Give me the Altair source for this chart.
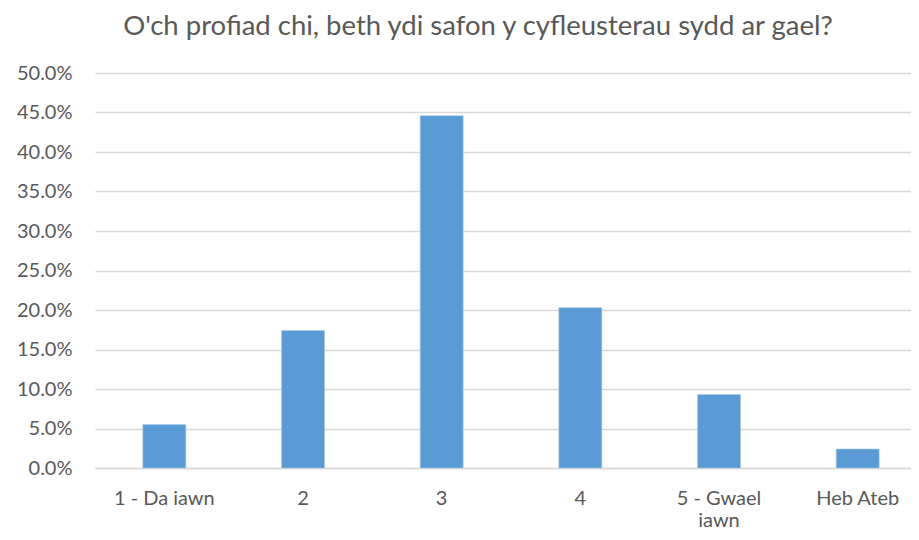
import altair as alt
import pandas as pd

categories = ["1 - Da iawn", "2", "3", "4", "5 - Gwael iawn", "Heb Ateb"]
values = [0.055, 0.174, 0.446, 0.203, 0.093, 0.024]
title_text = "O'ch profiad chi, beth ydi safon y cyfleusterau sydd ar gael?"

df = pd.DataFrame({"cat": categories, "val": values})

FONT = "Lato"
TXT = "#595959"

chart = alt.Chart(df).mark_bar(color="#5b9bd5", stroke="#a9c9ea", strokeWidth=0.6).encode(
    x=alt.X("cat:N", sort=categories, title=None,
            scale=alt.Scale(paddingInner=0.69, paddingOuter=0.345),
            axis=alt.Axis(labelAngle=0, ticks=False, domain=True, domainColor="#d9d9d9",
                          domainWidth=1.3, labelPadding=20, labelFontSize=20,
                          labelColor=TXT, labelFont=FONT, labelLineHeight=22,
                          labelExpr="datum.label == '5 - Gwael iawn' ? ['5 - Gwael', 'iawn'] : datum.label")),
    y=alt.Y("val:Q", title=None,
            scale=alt.Scale(domain=[0, 0.5], nice=False),
            axis=alt.Axis(format=".1%", values=[i * 0.05 for i in range(11)], ticks=False,
                          domain=False, gridColor="#d9d9d9", gridWidth=1.3,
                          labelPadding=23, labelFontSize=20, labelColor=TXT, labelFont=FONT)),
).properties(
    width=832,
    height=395,
    title=alt.TitleParams(title_text, fontSize=27.5, font=FONT, color=TXT, fontWeight="normal",
                          anchor="middle", frame="group", dx=-33, offset=23),
    autosize=alt.AutoSizeParams(type="none"),
    padding={"left": 87, "top": 65, "right": -16, "bottom": 62},
).configure_view(stroke=None)

chart.save("out.html", embed_options={"renderer": "svg", "actions": False})
